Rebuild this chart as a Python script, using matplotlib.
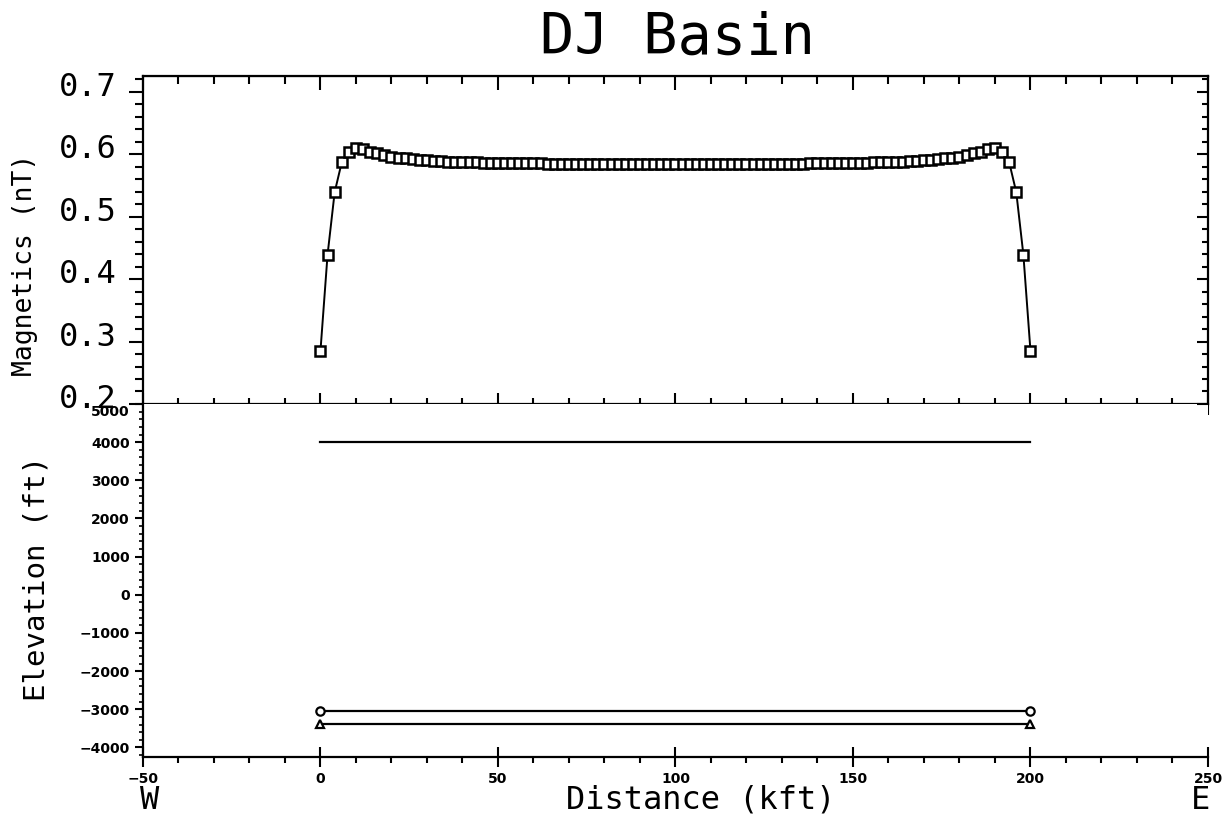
import numpy as np
import matplotlib.pyplot as plt
from matplotlib.ticker import MultipleLocator, FormatStrFormatter
from matplotlib.transforms import ScaledTranslation

# magnetic profile, one sample every 2 kft
dist = np.arange(0, 201, 2)
mag = [0.285, 0.439, 0.539, 0.587, 0.604, 0.610, 0.608, 0.604, 0.601, 0.598,
       0.596, 0.594, 0.593, 0.592, 0.591, 0.590, 0.589, 0.589, 0.588, 0.588,
       0.587, 0.587, 0.587, 0.586, 0.586, 0.586, 0.585, 0.585, 0.585, 0.585,
       0.585, 0.585, 0.584, 0.584, 0.584, 0.584, 0.584, 0.584, 0.584, 0.584,
       0.584, 0.584, 0.584, 0.584, 0.584, 0.584, 0.584, 0.584, 0.584, 0.584,
       0.584,
       0.584, 0.584, 0.584, 0.584, 0.584, 0.584, 0.584, 0.584, 0.584, 0.584,
       0.584, 0.584, 0.584, 0.584, 0.584, 0.584, 0.584, 0.584, 0.585, 0.585,
       0.585, 0.585, 0.585, 0.585, 0.586, 0.586, 0.586, 0.587, 0.587, 0.587,
       0.588, 0.588, 0.589, 0.589, 0.590, 0.591, 0.592, 0.593, 0.594, 0.596,
       0.598, 0.601, 0.604, 0.608, 0.610, 0.604, 0.587, 0.539, 0.439, 0.285]

# elevation horizons
hz_x = [0, 200]
topo = [4000, 4000]
horizon1 = [-3050, -3050]
horizon2 = [-3380, -3380]

mono = 'DejaVu Sans Mono'

fig = plt.figure(figsize=(12.25, 8.14), dpi=100)
ax1 = fig.add_axes([0.1167, 0.5037, 0.8694, 0.4029])
ax2 = fig.add_axes([0.1167, 0.0700, 0.8694, 0.4337])

# ---- magnetics panel
ax1.plot(dist, mag, color='black', lw=1.4, marker='s', ms=7,
         mfc='white', mec='black', mew=1.8)
ax1.set_xlim(-50, 250)
ax1.set_ylim(0.2, 0.725)
ax1.yaxis.set_major_locator(MultipleLocator(0.1))
ax1.yaxis.set_minor_locator(MultipleLocator(0.02))
ax1.yaxis.set_major_formatter(FormatStrFormatter('%.1f'))
ax1.xaxis.set_major_locator(MultipleLocator(50))
ax1.xaxis.set_minor_locator(MultipleLocator(10))
ax1.tick_params(axis='x', which='both', direction='inout', top=False,
                bottom=True, labelbottom=False)
ax1.tick_params(axis='x', which='major', length=16, width=1.5)
ax1.tick_params(axis='x', which='minor', length=8, width=1.5)
ax1.tick_params(axis='y', which='both', direction='out', right=False,
                pad=9, labelsize=23)
ax1.tick_params(axis='y', which='major', length=10, width=1.5)
ax1.tick_params(axis='y', which='minor', length=6, width=1.5)
for lab in ax1.get_yticklabels():
    lab.set_family(mono)
ax1.set_ylabel('Magnetics (nT)', family=mono, fontsize=19)
ax1.yaxis.set_label_coords(-0.099, 0.424)
for s in ax1.spines.values():
    s.set_linewidth(1.6)

top = ax1.secondary_xaxis('top')
top.xaxis.set_major_locator(MultipleLocator(50))
top.xaxis.set_minor_locator(MultipleLocator(10))
top.tick_params(which='both', direction='in', labeltop=False, width=1.5)
top.tick_params(which='major', length=10)
top.tick_params(which='minor', length=6)

# inward ticks on the right edge of the magnetics panel
right = ax1.twinx()
right.set_ylim(ax1.get_ylim())
right.yaxis.set_major_locator(MultipleLocator(0.1))
right.yaxis.set_minor_locator(MultipleLocator(0.02))
right.tick_params(which='both', direction='in', labelright=False, width=1.5)
right.tick_params(which='major', length=8)
right.tick_params(which='minor', length=4)
for s in right.spines.values():
    s.set_visible(False)

# ---- elevation panel
ax2.plot(hz_x, topo, color='black', lw=1.6)
ax2.plot(hz_x, horizon1, color='black', lw=1.6, marker='o', ms=6,
         mfc='white', mec='black', mew=1.6)
ax2.plot(hz_x, horizon2, color='black', lw=1.6, marker='^', ms=6,
         mfc='white', mec='black', mew=1.6)
ax2.set_xlim(-50, 250)
ax2.set_ylim(-4250, 5000)
ax2.yaxis.set_major_locator(MultipleLocator(1000))
ax2.yaxis.set_minor_locator(MultipleLocator(200))
ax2.xaxis.set_major_locator(MultipleLocator(50))
ax2.xaxis.set_minor_locator(MultipleLocator(10))
ax2.tick_params(axis='x', which='both', top=False, bottom=True,
                labelsize=10, pad=4, width=1.5)
ax2.tick_params(axis='x', which='major', direction='inout', length=14)
ax2.tick_params(axis='x', which='minor', direction='out', length=4)
ax2.tick_params(axis='y', which='major', direction='out', length=6,
                width=1.5, labelsize=10)
ax2.tick_params(axis='y', which='minor', direction='out', length=3,
                width=1.2)
for lab in ax2.get_yticklabels() + ax2.get_xticklabels():
    lab.set_fontweight('bold')
ax2.spines['right'].set_visible(False)
ax2.spines['top'].set_visible(False)
for s in ax2.spines.values():
    s.set_linewidth(1.6)
ax2.set_ylabel('Elevation (ft)', family=mono, fontsize=21)
ax2.yaxis.set_label_coords(-0.087, 0.507)

fig.text(0.572, 0.017, 'Distance (kft)', family=mono, fontsize=23,
         ha='center', va='center')
fig.text(0.1224, 0.017, 'W', family=mono, fontsize=23,
         ha='center', va='center')
fig.text(0.9796, 0.017, 'E', family=mono, fontsize=23,
         ha='center', va='center')
fig.text(0.553, 0.953, 'DJ Basin', family=mono, fontsize=41,
         ha='center', va='center')

# plotter-style label placement: magnetics labels sit a little above
# their ticks, the top elevation label a little below the panel edge
fig.canvas.draw()
up = ScaledTranslation(0, 0.08, fig.dpi_scale_trans)
for lab in ax1.get_yticklabels():
    lab.set_transform(lab.get_transform() + up)
down = ScaledTranslation(0, -0.07, fig.dpi_scale_trans)
for tick in ax2.yaxis.get_major_ticks():
    if abs(tick.get_loc() - 5000) < 1:
        tick.label1.set_transform(tick.label1.get_transform() + down)

fig.savefig('out.png', dpi=100)
